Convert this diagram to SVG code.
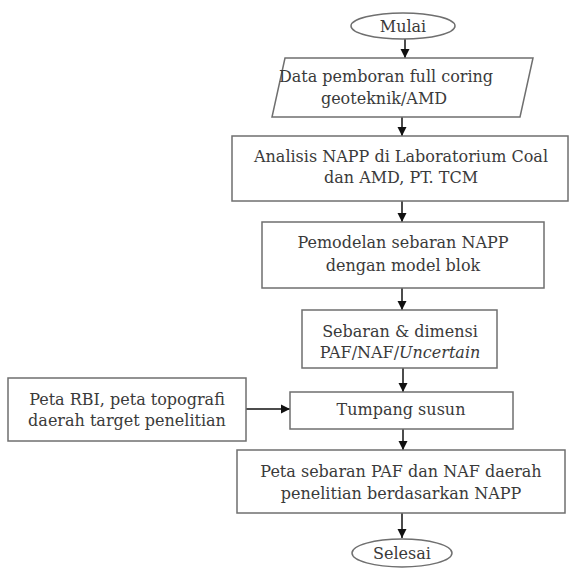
<svg xmlns="http://www.w3.org/2000/svg" width="571" height="569" viewBox="0 0 571 569">
<defs>
<marker id="ah" markerWidth="10" markerHeight="10" refX="9" refY="5" orient="auto" markerUnits="userSpaceOnUse">
<path d="M0,0.5 L9,5 L0,9.5 Z" fill="#111"/>
</marker>
<style>
.box{fill:#fff;stroke:#6f6f6f;stroke-width:1.5}
.t{font-family:"DejaVu Serif","Liberation Serif",serif;font-size:16px;fill:#3a3a3a;text-anchor:middle}
.c{stroke:#111;stroke-width:1.5;fill:none;marker-end:url(#ah)}
</style>
</defs>
<rect width="571" height="569" fill="#fff"/>
<g id="connectors">
<line class="c" x1="405" y1="39" x2="405" y2="58"/>
<line class="c" x1="402" y1="117" x2="402" y2="136"/>
<line class="c" x1="402" y1="201" x2="402" y2="222"/>
<line class="c" x1="402" y1="288" x2="402" y2="310"/>
<line class="c" x1="403" y1="368" x2="403" y2="392"/>
<line class="c" x1="403" y1="429" x2="403" y2="450"/>
<line class="c" x1="402" y1="513" x2="402" y2="538"/>
<line class="c" x1="246" y1="409" x2="290" y2="409"/>
</g>
<g id="mulai">
<ellipse class="box" cx="403" cy="26" rx="52" ry="13"/>
<text class="t" x="403" y="32">Mulai</text>
</g>
<g id="data">
<polygon class="box" points="285,58 533,58 520,117 272,117"/>
<text class="t" x="386" y="82">Data pemboran full coring</text>
<text class="t" x="384" y="104">geoteknik/AMD</text>
</g>
<g id="analisis">
<rect class="box" x="232" y="136" width="336" height="65"/>
<text class="t" x="401" y="162">Analisis NAPP di Laboratorium Coal</text>
<text class="t" x="401" y="183">dan AMD, PT. TCM</text>
</g>
<g id="pemodelan">
<rect class="box" x="262" y="222" width="282" height="66"/>
<text class="t" x="403" y="248">Pemodelan sebaran NAPP</text>
<text class="t" x="403" y="271">dengan model blok</text>
</g>
<g id="sebaran">
<rect class="box" x="302" y="310" width="195" height="58"/>
<text class="t" x="400" y="337">Sebaran &amp; dimensi</text>
<text class="t" x="400" y="358">PAF/NAF/<tspan font-style="italic">Uncertain</tspan></text>
</g>
<g id="peta-rbi">
<rect class="box" x="8" y="378" width="238" height="63"/>
<text class="t" x="127" y="405">Peta RBI, peta topografi</text>
<text class="t" x="127" y="426">daerah target penelitian</text>
</g>
<g id="tumpang">
<rect class="box" x="290" y="392" width="223" height="37"/>
<text class="t" x="401" y="415">Tumpang susun</text>
</g>
<g id="peta-sebaran">
<rect class="box" x="237" y="450" width="328" height="63"/>
<text class="t" x="401" y="477">Peta sebaran PAF dan NAF daerah</text>
<text class="t" x="401" y="499">penelitian berdasarkan NAPP</text>
</g>
<g id="selesai">
<ellipse class="box" cx="402" cy="553" rx="50" ry="14"/>
<text class="t" x="402" y="559">Selesai</text>
</g>
</svg>
